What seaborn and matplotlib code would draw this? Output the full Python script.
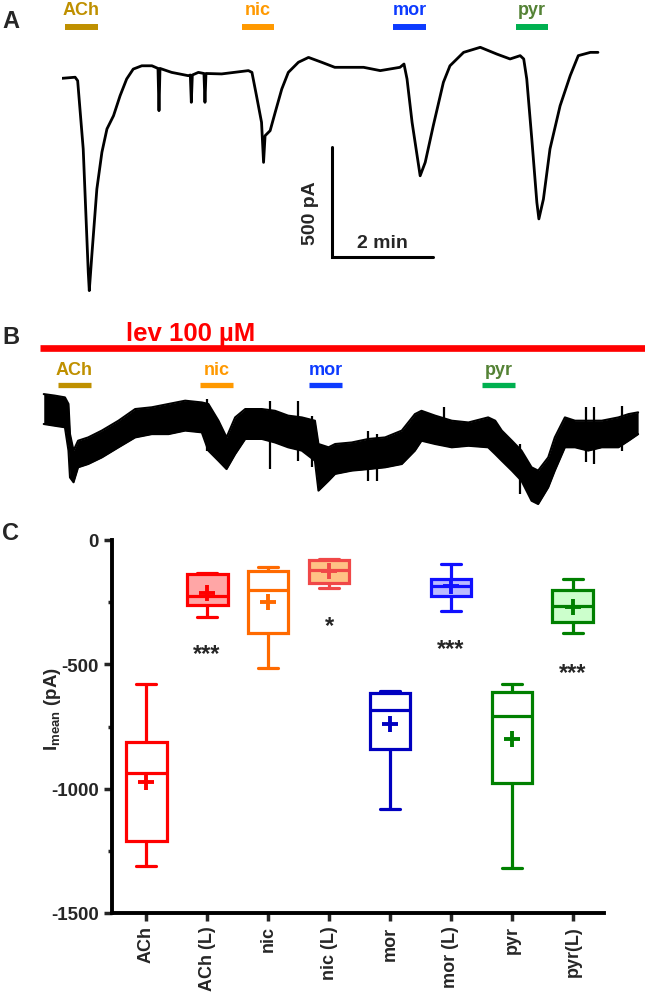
import numpy as np
import pandas as pd
import matplotlib
matplotlib.use('Agg')
import matplotlib.pyplot as plt
import seaborn as sns

sns.set_style('white')
plt.rcParams['font.family'] = ['Liberation Sans', 'DejaVu Sans']
plt.rcParams['font.weight'] = 'bold'
plt.rcParams['axes.unicode_minus'] = False
plt.rcParams['mathtext.fontset'] = 'custom'
plt.rcParams['mathtext.rm'] = 'Liberation Sans:bold'
plt.rcParams['mathtext.bf'] = 'Liberation Sans:bold'

# ---- panel A: control trace (time in min, current in pA) ----
trace_a_t = [0.00, 0.26, 0.31, 0.42, 0.52, 0.54, 0.59, 0.69, 0.79, 0.89, 1.02, 1.15,
             1.28, 1.41, 1.58, 1.78, 1.90, 1.92, 1.94, 2.17, 2.50, 2.54, 2.56, 2.58,
             2.70, 2.81, 2.83, 2.85, 3.16, 3.69, 3.76, 3.85, 3.95, 3.99, 4.02, 4.12,
             4.22, 4.35, 4.48, 4.68, 4.88, 5.14, 5.40, 5.97, 6.30, 6.69, 6.77, 6.83,
             6.93, 7.03, 7.09, 7.19, 7.35, 7.55, 7.68, 7.95, 8.28, 8.61, 8.87, 9.07,
             9.14, 9.20, 9.30, 9.40, 9.44, 9.53, 9.66, 9.86, 10.06, 10.22, 10.46, 10.61]
trace_a_i = [0, 5, -11, -321, -882, -965, -806, -503, -336, -230, -170, -79,
             -3, 42, 57, 57, 45, -147, 45, 27, 12, 15, -109, 15,
             27, 22, -109, 22, 20, 35, 27, -79, -200, -382, -261, -238,
             -155, -49, 27, 73, 95, 73, 50, 50, 35, 50, 65, -3,
             -200, -352, -443, -382, -215, -18, 57, 118, 141, 110, 88, 103,
             88, -3, -276, -564, -639, -549, -321, -125, 12, 103, 118, 118]

# ---- panel B: trace in levamisole, upper / lower edge of the noisy band ----
trace_b_t = [0.00, 0.22, 0.42, 0.49, 0.52, 0.59, 0.68, 0.88, 1.15, 1.48, 1.81, 2.14,
             2.47, 2.80, 3.13, 3.26, 3.46, 3.62, 3.79, 3.99, 4.32, 4.58, 4.84, 5.11,
             5.37, 5.44, 5.64, 5.77, 6.10, 6.43, 6.76, 7.09, 7.35, 7.48, 7.75, 8.08,
             8.41, 8.80, 8.94, 9.07, 9.27, 9.46, 9.66, 9.79, 9.99, 10.12, 10.32, 10.52,
             10.78, 11.05, 11.38, 11.58, 11.77]
trace_b_top = [68, 61, 53, 23, -114, -189, -144, -129, -98, -53, 0, 8,
               23, 38, 30, 23, -53, -129, -38, 0, 0, -8, -30, -38,
               -53, -159, -174, -159, -152, -136, -129, -98, -23, -8, -30, -53,
               -61, -38, -53, -98, -144, -189, -265, -280, -220, -129, -38, -53,
               -53, -53, -38, -23, -15]
trace_b_bottom = [-68, -76, -83, -189, -311, -333, -265, -250, -220, -174, -129, -114,
                  -114, -98, -106, -189, -235, -273, -205, -136, -136, -152, -174, -189,
                  -235, -371, -326, -295, -280, -273, -265, -250, -189, -144, -159, -174,
                  -167, -174, -205, -235, -280, -326, -417, -432, -356, -280, -174, -174,
                  -189, -174, -174, -144, -114]
spike_b_t = [3.23, 4.48, 5.04, 5.31, 6.43, 6.60, 7.92, 9.43, 10.73, 10.89, 11.45]
spike_b_top = [46, 38, 38, -30, -98, -114, 8, -159, 8, 8, 15]
spike_b_bottom = [-189, -273, -235, -265, -326, -326, -159, -386, -242, -250, -189]

drugs = ['ACh', 'nic', 'mor', 'pyr']
drug_text_colors = ['#BF9000', '#FF9900', '#0D3BFF', '#548235']
drug_bar_colors = ['#BF9000', '#FF9900', '#0D3BFF', '#00B050']
drug_on_a = [0.06, 3.56, 6.55, 8.99]
drug_off_a = [0.71, 4.20, 7.21, 9.62]
drug_on_b = [0.28, 3.09, 5.25, 8.68]
drug_off_b = [0.94, 3.75, 5.91, 9.33]

# ---- panel C: summary of mean currents ----
conditions = ['ACh', 'ACh (L)', 'nic', 'nic (L)', 'mor', 'mor (L)', 'pyr', 'pyr(L)']
i_min = [-1313, -310, -515, -195, -1080, -285, -1319, -375]
i_q1 = [-1210, -262, -372, -171, -840, -225, -977, -328]
i_median = [-937, -225, -202, -120, -682, -185, -709, -265]
i_q3 = [-814, -135, -126, -79, -616, -158, -610, -202]
i_max = [-579, -131, -108, -75, -608, -95, -579, -155]
i_mean = [-974, -214, -248, -124, -740, -185, -800, -268]
sig_conditions = ['ACh (L)', 'nic (L)', 'mor (L)', 'pyr(L)']
sig_labels = ['***', '*', '***', '***']
sig_y = [-423, -309, -401, -499]

box_edge = ['#FF0000', '#FF0000', '#FF6A00', '#F04848', '#0000C0', '#1010FF', '#008000', '#008000']
box_fill = ['white', '#FFA6A6', 'white', '#FFC285', 'white', '#BBBBFF', 'white', '#CCFFCC']

rows = []
for c, a, b, m, d, e in zip(conditions, i_min, i_q1, i_median, i_q3, i_max):
    for v in (a, b, m, d, e):
        rows.append({'condition': c, 'current': v})
df = pd.DataFrame(rows)

W, H = 645, 995
fig = plt.figure(figsize=(W / 100, H / 100), dpi=100)


def px_rect(x0, y0, x1, y1):
    return [x0 / W, 1 - y1 / H, (x1 - x0) / W, (y1 - y0) / H]


# panel A
axA = fig.add_axes(px_rect(62, 45, 600, 300))
sns.lineplot(x=trace_a_t, y=trace_a_i, color='black', linewidth=2.0, ax=axA)
axA.set_xlim(0, 10.65)
axA.set_ylim(-1003, 156)
axA.axis('off')
axA.hlines([233] * 4, drug_on_a, drug_off_a, colors=drug_bar_colors, linewidth=4.3,
           capstyle='butt', clip_on=False)
for name, on, off, col in zip(drugs, drug_on_a, drug_off_a, drug_text_colors):
    axA.text((on + off) / 2, 292, name, color=col, ha='center', va='baseline',
             fontsize=13, fontweight='bold', clip_on=False)
# scale bar: 2 min / 500 pA
axA.plot([5.35, 5.35, 7.35], [-312, -812, -812], color='black', linewidth=2.2,
         solid_joinstyle='miter')
axA.text(4.91, -609, '500 pA', rotation=90, ha='center', va='center', fontsize=14,
         fontweight='bold')
axA.text(6.34, -744, '2 min', ha='center', va='center', fontsize=14, fontweight='bold')

# panel B
axB = fig.add_axes(px_rect(40, 330, 645, 520))
sns.lineplot(x=trace_b_t, y=trace_b_top, color='black', linewidth=1.5, ax=axB)
sns.lineplot(x=trace_b_t, y=trace_b_bottom, color='black', linewidth=1.5, ax=axB)
axB.fill_between(trace_b_t, trace_b_bottom, trace_b_top, color='black', linewidth=0)
axB.vlines(spike_b_t, spike_b_bottom, spike_b_top, colors='black', linewidth=1.6)
axB.set_xlim(-0.074, 11.906)
axB.set_ylim(-500, 364)
axB.axis('off')
axB.plot([-0.074, 11.906], [277, 277], color='#FF0000', linewidth=4.8,
         solid_capstyle='butt', clip_on=False)
axB.text(2.90, 314, 'lev 100 µM', color='#FF0000', ha='center', va='baseline',
         fontsize=18.5, fontweight='bold', clip_on=False)
axB.hlines([109] * 4, drug_on_b, drug_off_b, colors=drug_bar_colors, linewidth=3.8,
           capstyle='butt')
for name, on, off, col in zip(drugs, drug_on_b, drug_off_b, drug_text_colors):
    axB.text((on + off) / 2, 159, name, color=col, ha='center', va='baseline',
             fontsize=13, fontweight='bold')

# panel C
axC = fig.add_axes(px_rect(112, 541, 604, 914))
for c, fc, ec in zip(conditions, box_fill, box_edge):
    sns.boxplot(data=df[df['condition'] == c], x='condition', y='current',
                order=conditions, color=fc, linecolor=ec, linewidth=2.3,
                width=0.67, whis=(0, 100), saturation=1, ax=axC)
sns.scatterplot(x=conditions, y=i_mean, hue=conditions,
                palette=dict(zip(conditions, box_edge)), marker='+', s=130,
                linewidth=2.8, legend=False, ax=axC, zorder=5)
for cond, lab, y in zip(sig_conditions, sig_labels, sig_y):
    axC.annotate(lab, (conditions.index(cond), y), xytext=(0, -11),
                 textcoords='offset points', ha='center', va='baseline',
                 fontsize=17, fontweight='bold')

axC.set_xlim(-0.56, 7.51)
axC.set_ylim(-1500, 0)
axC.set_yticks([0, -500, -1000, -1500])
axC.set_yticks([-250, -750, -1250], minor=True)
axC.set_xticks(range(len(conditions)))
axC.set_xticklabels(conditions, rotation=90, fontsize=13, fontweight='bold')
axC.tick_params(axis='y', labelsize=13.5, width=2.5, length=6, direction='out', left=True)
axC.tick_params(axis='y', which='minor', width=2.5, length=3, direction='out', left=True)
axC.tick_params(axis='x', width=2.5, length=6, direction='out', bottom=True, pad=3)
for lab in axC.get_yticklabels():
    lab.set_fontweight('bold')
sns.despine(ax=axC)
for s in ('left', 'bottom'):
    axC.spines[s].set_linewidth(2.8)
    axC.spines[s].set_color('black')
axC.set_xlabel('')
axC.set_ylabel(r'I$_{\mathbf{mean}}$ (pA)', fontsize=13.5, fontweight='bold')
axC.yaxis.set_label_coords(-0.10, 0.55)
axC.grid(False)

# panel letters
fig.text(2 / W, 1 - 22 / H, 'A', fontsize=17, fontweight='bold', va='center', ha='left')
fig.text(2 / W, 1 - 337 / H, 'B', fontsize=17, fontweight='bold', va='center', ha='left')
fig.text(2 / W, 1 - 533 / H, 'C', fontsize=17, fontweight='bold', va='center', ha='left')

fig.savefig('out.png', dpi=100)
